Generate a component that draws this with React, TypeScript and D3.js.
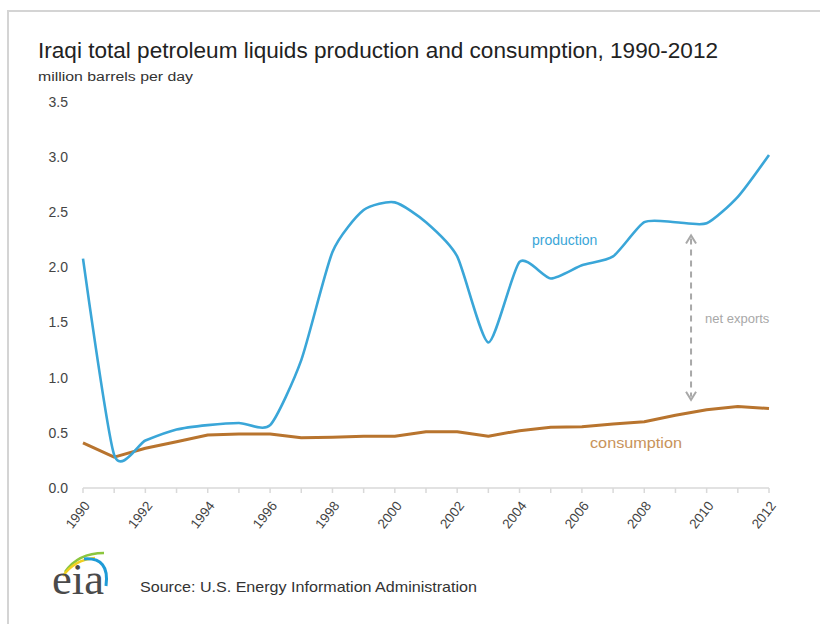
import React from "react";
import * as d3 from "d3";

// Iraqi petroleum liquids, million barrels per day
const years = [
  1990, 1991, 1992, 1993, 1994, 1995, 1996, 1997, 1998, 1999, 2000, 2001,
  2002, 2003, 2004, 2005, 2006, 2007, 2008, 2009, 2010, 2011, 2012,
];
const production = [
  2.08, 0.3, 0.43, 0.53, 0.57, 0.59, 0.57, 1.16, 2.14, 2.52, 2.59, 2.41,
  2.1, 1.32, 2.05, 1.9, 2.02, 2.1, 2.41, 2.41, 2.4, 2.64, 3.02,
];
const consumption = [
  0.41, 0.28, 0.36, 0.42, 0.48, 0.49, 0.49, 0.455, 0.46, 0.47, 0.47, 0.51,
  0.51, 0.47, 0.52, 0.55, 0.555, 0.58, 0.6, 0.66, 0.71, 0.74, 0.72,
];
const yTicks = [0, 0.5, 1, 1.5, 2, 2.5, 3, 3.5];
const xLabelYears = [1990, 1992, 1994, 1996, 1998, 2000, 2002, 2004, 2006, 2008, 2010, 2012];

const W = 820;
const H = 624;
const SANS = "'Liberation Sans', Arial, sans-serif";
const NARROW = "'Liberation Sans Narrow', 'Liberation Sans', Arial, sans-serif";

export default function App() {
  const x = d3.scaleLinear().domain([1990, 2012]).range([83, 769]);
  const y = d3.scaleLinear().domain([0, 3.5]).range([488, 102]);

  const prodLine = d3
    .line<number>()
    .x((_, i) => x(years[i]))
    .y((d) => y(d))
    .curve(d3.curveCardinal.tension(0.35));
  const consLine = d3
    .line<number>()
    .x((_, i) => x(years[i]))
    .y((d) => y(d))
    .curve(d3.curveLinear);

  // net exports arrow, spanning the gap around 2009.5
  const arrowX = x(2009.5);
  const arrowTop = y(2.29);
  const arrowBot = y(0.8);

  return (
    <svg
      width={W}
      height={H}
      style={{ position: "absolute", left: 0, top: 0, background: "#fff" }}
    >
      <path d={`M8,${H} L8,11 L${W},11`} fill="none" stroke="#d4d4d4" strokeWidth={2} />

      <text
        x={38}
        y={58}
        fontFamily={NARROW}
        fontSize={22}
        fill="#222"
        textLength={680}
        lengthAdjust="spacingAndGlyphs"
      >
        Iraqi total petroleum liquids production and consumption, 1990-2012
      </text>
      <text
        x={38}
        y={81}
        fontFamily={NARROW}
        fontSize={12}
        fill="#333"
        textLength={155}
        lengthAdjust="spacingAndGlyphs"
      >
        million barrels per day
      </text>

      {/* y axis labels */}
      {yTicks.map((t) => (
        <text
          key={t}
          x={68}
          y={y(t)}
          dy="0.35em"
          textAnchor="end"
          fontFamily={SANS}
          fontSize={14}
          fill="#444"
        >
          {d3.format(".1f")(t)}
        </text>
      ))}

      {/* x axis */}
      <line x1={x(1990)} x2={x(2012)} y1={y(0)} y2={y(0)} stroke="#d9d9d9" strokeWidth={1.5} />
      {years.map((yr) => (
        <line
          key={yr}
          x1={x(yr)}
          x2={x(yr)}
          y1={y(0)}
          y2={y(0) + 5}
          stroke="#d9d9d9"
          strokeWidth={1.5}
        />
      ))}
      {xLabelYears.map((yr) => (
        <text
          key={yr}
          transform={`translate(${x(yr) + 4},${y(0) + 15}) rotate(-52)`}
          textAnchor="end"
          dy="0.35em"
          fontFamily={SANS}
          fontSize={13.5}
          fill="#444"
        >
          {yr}
        </text>
      ))}

      <path
        d={consLine(consumption) || ""}
        fill="none"
        stroke="#b8742e"
        strokeWidth={3}
        strokeLinejoin="round"
      />
      <path
        d={prodLine(production) || ""}
        fill="none"
        stroke="#3aa6d8"
        strokeWidth={2.6}
        strokeLinejoin="round"
      />

      {/* series labels */}
      <text x={532} y={245} fontFamily={SANS} fontSize={14} fill="#3aa6d8">
        production
      </text>
      <text x={590} y={448} fontFamily={SANS} fontSize={14} fill="#c8935a" textLength={92} lengthAdjust="spacingAndGlyphs">
        consumption
      </text>

      {/* net exports arrow */}
      <line
        x1={arrowX}
        x2={arrowX}
        y1={arrowTop + 3}
        y2={arrowBot - 3}
        stroke="#a8a8a8"
        strokeWidth={2}
        strokeDasharray="6,5"
      />
      <path
        d={`M${arrowX - 5},${arrowTop + 8} L${arrowX},${arrowTop} L${arrowX + 5},${arrowTop + 8}`}
        fill="none"
        stroke="#a8a8a8"
        strokeWidth={2}
      />
      <path
        d={`M${arrowX - 5},${arrowBot - 8} L${arrowX},${arrowBot} L${arrowX + 5},${arrowBot - 8}`}
        fill="none"
        stroke="#a8a8a8"
        strokeWidth={2}
      />
      <text x={arrowX + 14} y={323} fontFamily={SANS} fontSize={13} fill="#a8a8a8">
        net exports
      </text>

      {/* logo and source */}
      <path d="M65,572 Q78,553 104,553" fill="none" stroke="#8cc63e" strokeWidth={2.5} />
      <path d="M63,576 Q74,560 95,558" fill="none" stroke="#f0d020" strokeWidth={2.5} />
      <path d="M84,559 Q110,557 106,586" fill="none" stroke="#1e9bd7" strokeWidth={3} />
      <text
        x={52}
        y={594}
        fontFamily="'Liberation Serif', 'DejaVu Serif', serif"
        fontSize={44}
        fill="#4a4a4a"
        textLength={52}
        lengthAdjust="spacingAndGlyphs"
      >
        eia
      </text>
      <text
        x={140}
        y={592}
        fontFamily={NARROW}
        fontSize={15}
        fill="#333"
        textLength={337}
        lengthAdjust="spacingAndGlyphs"
      >
        Source: U.S. Energy Information Administration
      </text>
    </svg>
  );
}
